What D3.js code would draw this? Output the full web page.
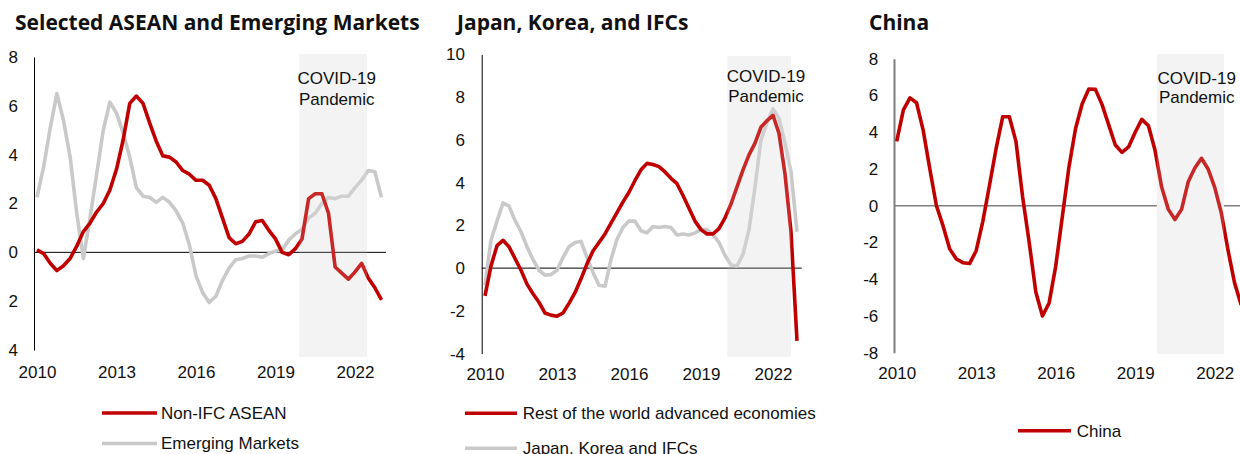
<!DOCTYPE html>
<html>
<head>
<meta charset="utf-8">
<script src="https://cdn.jsdelivr.net/npm/d3@7"></script>
<style>
  html, body { margin: 0; padding: 0; background: #fff; }
  svg { display: block; }
</style>
</head>
<body>
<svg id="chart" width="1240" height="454"></svg>
<script>
// ---------- DATA (quarterly, 2010Q1 .. 2023Q1) ----------
const quarters = d3.range(53).map(i => 2010 + i / 4);

const nonIfcAsean = [
  0.1, -0.05, -0.45, -0.75, -0.55, -0.25, 0.25, 0.85, 1.2, 1.65,
  2.0, 2.55, 3.4, 4.6, 6.1, 6.4, 6.1, 5.3, 4.55, 3.95,
  3.9, 3.7, 3.35, 3.2, 2.95, 2.95, 2.75, 2.2, 1.4, 0.6,
  0.35, 0.45, 0.75, 1.25, 1.3, 0.9, 0.55, 0.0, -0.1, 0.15,
  0.55, 2.2, 2.4, 2.4, 1.6, -0.6, -0.85, -1.1, -0.8, -0.45,
  -1.05, -1.45, -1.95
];
const emergingMarkets = [
  2.25, 3.5, 5.1, 6.5, 5.4, 3.9, 1.6, -0.25, 1.4, 3.2,
  5.0, 6.15, 5.7, 4.9, 3.9, 2.65, 2.3, 2.25, 2.05, 2.25,
  2.05, 1.7, 1.2, 0.3, -0.95, -1.65, -2.05, -1.8, -1.15, -0.65,
  -0.3, -0.25, -0.15, -0.15, -0.2, -0.05, 0.05, 0.1, 0.5, 0.75,
  0.95, 1.4, 1.6, 2.0, 2.25, 2.2, 2.3, 2.3, 2.65, 2.95,
  3.35, 3.3, 2.25
];
const restAdvanced = [
  -1.3, 0.1, 1.05, 1.3, 1.0, 0.45, -0.1, -0.75, -1.2, -1.6,
  -2.1, -2.2, -2.25, -2.1, -1.65, -1.15, -0.5, 0.2, 0.8, 1.2,
  1.6, 2.1, 2.6, 3.1, 3.55, 4.1, 4.6, 4.9, 4.85, 4.75,
  4.5, 4.2, 3.95, 3.4, 2.8, 2.2, 1.8, 1.6, 1.6, 1.85,
  2.35, 3.0, 3.8, 4.6, 5.3, 5.85, 6.6, 6.9, 7.15, 6.3,
  4.4, 1.7, -3.4
];
const japanKoreaIfcs = [
  -0.8, 1.3, 2.2, 3.05, 2.9, 2.24, 1.7, 1.0, 0.4, -0.1,
  -0.33, -0.3, -0.1, 0.5, 1.0, 1.2, 1.25, 0.5, -0.2, -0.8,
  -0.85, 0.4, 1.35, 1.9, 2.2, 2.2, 1.75, 1.65, 1.95, 1.9,
  1.95, 1.9, 1.55, 1.6, 1.55, 1.65, 1.8, 1.8, 1.55, 1.2,
  0.6, 0.15, 0.1, 0.65, 1.8, 3.8, 6.0, 6.8, 7.45, 7.0,
  5.85, 4.5, 1.7
];
const china = [
  3.5, 5.2, 5.87, 5.6, 4.1, 2.0, 0.0, -1.1, -2.35, -2.9,
  -3.1, -3.15, -2.45, -0.85, 1.1, 3.1, 4.84, 4.84, 3.5, 0.5,
  -2.0, -4.7, -6.0, -5.3, -3.3, -0.6, 2.1, 4.2, 5.55, 6.35,
  6.33, 5.5, 4.4, 3.3, 2.9, 3.2, 4.0, 4.7, 4.35, 3.0,
  1.0, -0.2, -0.75, -0.2, 1.3, 2.05, 2.58, 2.0, 1.0, -0.4,
  -2.4, -4.2, -5.4
];

const xTickYears = [2010, 2013, 2016, 2019, 2022];
const p1YTicks = [-4, -2, 0, 2, 4, 6, 8];
const p1YTickLabels = ["4", "2", "0", "2", "4", "6", "8"];
const p2YTicks = [-4, -2, 0, 2, 4, 6, 8, 10];
const p2YTickLabels = ["-4", "-2", "0", "2", "4", "6", "8", "10"];
const p3YTicks = [-8, -6, -4, -2, 0, 2, 4, 6, 8];
const p3YTickLabels = ["-8", "-6", "-4", "-2", "0", "2", "4", "6", "8"];

const titles = ["Selected ASEAN and Emerging Markets", "Japan, Korea, and IFCs", "China"];
const covidLabel = ["COVID-19", "Pandemic"];
const p1Covid = [2019.9, 2022.45];
const p2Covid = [2020.1, 2022.75];
const p3Covid = [2019.82, 2022.35];

// ---------- STYLE ----------
const RED = "#c00000";
const GREY = "#c9c9c9";
const SHADE = "#f2f3f2";
const TICK_FONT = "'Liberation Sans', Arial, sans-serif";
const TITLE_FONT = "'Open Sans', 'Noto Sans', sans-serif";

const panels = [
  {
    title: titles[0], titleX: 15,
    xr: [37, 381.5], yr: [350, 57], yd: [-4, 8], axisX: 34, zeroEnd: 386,
    yTicks: p1YTicks, yLabels: p1YTickLabels, labelPad: 16, xLabelY: 366,
    covid: p1Covid, shadeY: [54, 357], covidX: 336.7, covidY: [84, 105],
    axisColor: "#000", axisW: 1, zeroColor: "#000", zeroW: 1, zeroOnTop: true,
    series: [
      { name: "Emerging Markets", values: emergingMarkets, color: GREY },
      { name: "Non-IFC ASEAN", values: nonIfcAsean, color: RED }
    ],
    legend: [
      { name: "Non-IFC ASEAN", color: RED, x1: 102, x2: 157, y: 413, tx: 161 },
      { name: "Emerging Markets", color: GREY, x1: 102, x2: 157, y: 443.5, tx: 161 }
    ]
  },
  {
    title: titles[1], titleX: 457,
    xr: [485, 797], yr: [353.6, 54.4], yd: [-4, 10], axisX: 481.7, zeroEnd: 801.7,
    yTicks: p2YTicks, yLabels: p2YTickLabels, labelPad: 16.7, xLabelY: 368,
    covid: p2Covid, shadeY: [56, 357], covidX: 766, covidY: [82, 102],
    axisColor: "#000", axisW: 1, zeroColor: "#000", zeroW: 1, zeroOnTop: true,
    series: [
      { name: "Japan, Korea and IFCs", values: japanKoreaIfcs, color: GREY },
      { name: "Rest of the world advanced economies", values: restAdvanced, color: RED }
    ],
    legend: [
      { name: "Rest of the world advanced economies", color: RED, x1: 465, x2: 517, y: 413.3, tx: 522.7 },
      { name: "Japan, Korea and IFCs", color: GREY, x1: 465, x2: 517, y: 448.3, tx: 522.7 }
    ]
  },
  {
    title: titles[2], titleX: 869,
    xr: [896.7, 1241.2], yr: [352.7, 58.7], yd: [-8, 8], axisX: 894, zeroEnd: 1240,
    yTicks: p3YTicks, yLabels: p3YTickLabels, labelPad: 15.7, xLabelY: 367,
    covid: p3Covid, shadeY: [54, 354], covidX: 1196.7, covidY: [84, 103],
    axisColor: "#7f7f7f", axisW: 2, zeroColor: "#7f7f7f", zeroW: 1.5, zeroOnTop: false,
    series: [
      { name: "China", values: china, color: RED }
    ],
    legend: [
      { name: "China", color: RED, x1: 1018, x2: 1071, y: 430.7, tx: 1076.7 }
    ]
  }
];

const svg = d3.select("#chart");
svg.append("rect").attr("width", 1240).attr("height", 454).attr("fill", "#fff");

panels.forEach(p => {
  const x = d3.scaleLinear().domain([2010, 2023]).range(p.xr);
  const y = d3.scaleLinear().domain(p.yd).range(p.yr);
  const g = svg.append("g");

  // title
  g.append("text")
    .attr("x", p.titleX).attr("y", 30)
    .attr("font-family", TITLE_FONT).attr("font-weight", 700)
    .attr("font-size", 21).attr("fill", "#111")
    .text(p.title);

  const zeroLine = () => g.append("line")
    .attr("x1", p.axisX).attr("x2", p.zeroEnd)
    .attr("y1", y(0)).attr("y2", y(0))
    .attr("stroke", p.zeroColor).attr("stroke-width", p.zeroW);

  if (!p.zeroOnTop) zeroLine();

  // covid shade
  g.append("rect")
    .attr("x", x(p.covid[0])).attr("width", x(p.covid[1]) - x(p.covid[0]))
    .attr("y", p.shadeY[0]).attr("height", p.shadeY[1] - p.shadeY[0])
    .attr("fill", SHADE);

  if (p.zeroOnTop) zeroLine();

  // y axis
  const yAxis = d3.axisLeft(y)
    .tickValues(p.yTicks)
    .tickFormat((d, i) => p.yLabels[i])
    .tickSize(0).tickSizeOuter(0).tickPadding(p.labelPad);
  const ya = g.append("g").attr("transform", `translate(${p.axisX},0)`).call(yAxis);
  ya.select(".domain").attr("stroke", p.axisColor).attr("stroke-width", p.axisW);
  ya.selectAll("text").attr("font-family", TICK_FONT).attr("font-size", 17).attr("fill", "#111");

  // x axis (labels only)
  const xAxis = d3.axisBottom(x)
    .tickValues(xTickYears).tickFormat(d3.format("d"))
    .tickSize(0).tickSizeOuter(0).tickPadding(0);
  const xa = g.append("g").attr("transform", `translate(0,${p.xLabelY})`).call(xAxis);
  xa.select(".domain").remove();
  xa.selectAll("text").attr("font-family", TICK_FONT).attr("font-size", 17).attr("fill", "#111");

  // lines
  const line = d3.line().x((d, i) => x(quarters[i])).y(d => y(d));
  p.series.forEach(s => {
    g.append("path").datum(s.values)
      .attr("d", line).attr("fill", "none")
      .attr("stroke", s.color).attr("stroke-width", 3.6)
      .attr("stroke-linejoin", "round").attr("stroke-linecap", "butt");
  });

  // translucent shade overlay on the lines
  g.append("rect")
    .attr("x", x(p.covid[0])).attr("width", x(p.covid[1]) - x(p.covid[0]))
    .attr("y", p.shadeY[0]).attr("height", p.shadeY[1] - p.shadeY[0])
    .attr("fill", SHADE).attr("fill-opacity", 0.16);

  // covid label
  g.append("text")
    .attr("x", p.covidX).attr("text-anchor", "middle")
    .attr("font-family", TICK_FONT).attr("font-size", 17).attr("fill", "#111")
    .selectAll("tspan").data(covidLabel).join("tspan")
    .attr("x", p.covidX).attr("y", (d, i) => p.covidY[i]).text(d => d);

  // legend
  p.legend.forEach(l => {
    g.append("line").attr("x1", l.x1).attr("x2", l.x2).attr("y1", l.y).attr("y2", l.y)
      .attr("stroke", l.color).attr("stroke-width", 3.6);
    g.append("text").attr("x", l.tx).attr("y", l.y).attr("dy", "0.35em")
      .attr("font-family", TICK_FONT).attr("font-size", 17).attr("fill", "#111")
      .text(l.name);
  });
});
</script>
</body>
</html>
